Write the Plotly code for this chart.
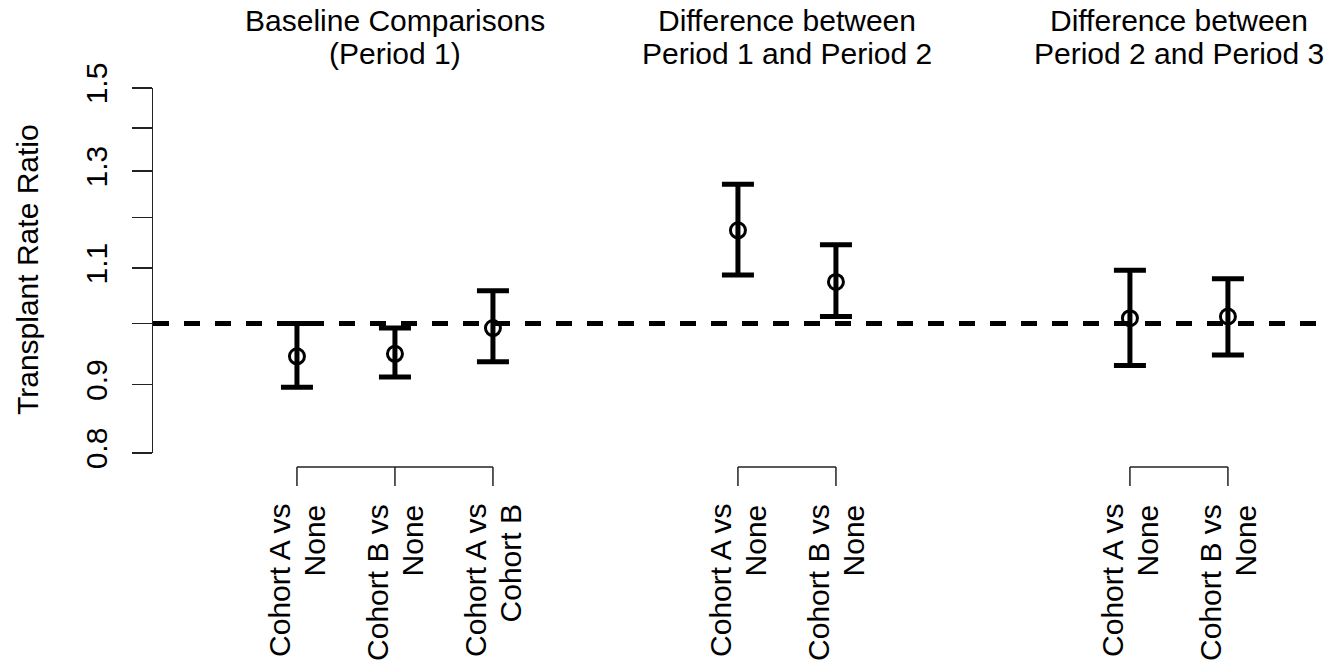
import math
import plotly.graph_objects as go

# ---------------- data ----------------
group_titles = [
    "Baseline Comparisons\n(Period 1)",
    "Difference between\nPeriod 1 and Period 2",
    "Difference between\nPeriod 2 and Period 3",
]
comparison_labels = [
    "Cohort A vs\nNone", "Cohort B vs\nNone", "Cohort A vs\nCohort B",
    "Cohort A vs\nNone", "Cohort B vs\nNone",
    "Cohort A vs\nNone", "Cohort B vs\nNone",
]
comparison_group = [0, 0, 0, 1, 1, 2, 2]
comparison_x = [1, 2, 3, 5.5, 6.5, 9.5, 10.5]
rate_ratio = [0.945, 0.949, 0.992, 1.174, 1.074, 1.009, 1.012]
ci_lower = [0.896, 0.912, 0.936, 1.087, 1.012, 0.930, 0.947]
ci_upper = [1.000, 0.992, 1.058, 1.271, 1.145, 1.096, 1.080]
reference_value = 1.0
y_tick_values = [0.8, 0.9, 1.0, 1.1, 1.2, 1.3, 1.4, 1.5]
y_tick_labels = ["0.8", "0.9", "", "1.1", "", "1.3", "", "1.5"]
y_title = "Transplant Rate Ratio"

# ---------------- layout geometry ----------------
W, H = 1334, 666
# plot area in page pixels: x 153..1322, y 88..453
L, R, T, B = 153, 1334 - 1322, 88, 666 - 453
PW, PH = W - L - R, H - T - B
X_RANGE = [-0.469, 11.46]
FONT = "Liberation Sans, Arial, sans-serif"
FS = 30


def py2paper(py):  # page pixel -> paper
    return (453 - py) / PH


def px2paper(px):
    return (px - 153) / PW


fig = go.Figure()

fig.add_trace(go.Scatter(
    x=comparison_x,
    y=rate_ratio,
    mode="markers",
    marker=dict(symbol="circle-open", size=15, color="black",
                line=dict(width=3, color="black")),
    error_y=dict(
        type="data",
        symmetric=False,
        array=[u - e for u, e in zip(ci_upper, rate_ratio)],
        arrayminus=[e - l for e, l in zip(rate_ratio, ci_lower)],
        thickness=5,
        width=16,
        color="black",
    ),
    showlegend=False,
    hoverinfo="skip",
))

shapes = []
shapes.append(dict(type="line", xref="paper", x0=0, x1=1, yref="y",
                   y0=reference_value, y1=reference_value,
                   line=dict(color="black", width=5, dash="16px,15px"),
                   layer="above"))

annotations = []
for g in range(len(group_titles)):
    xs = [x for x, gg in zip(comparison_x, comparison_group) if gg == g]
    shapes.append(dict(type="line", xref="x", yref="paper",
                       x0=min(xs), x1=max(xs), y0=py2paper(467), y1=py2paper(467),
                       line=dict(color="#222", width=1.5)))
    for x in xs:
        shapes.append(dict(type="line", xref="x", yref="paper",
                           x0=x, x1=x, y0=py2paper(467), y1=py2paper(486),
                           line=dict(color="#222", width=1.5)))
    cx = sum(xs) / len(xs)
    for i, line in enumerate(group_titles[g].split("\n")):
        annotations.append(dict(
            x=cx, xref="x", y=py2paper(21 + 33 * i), yref="paper",
            text=line, showarrow=False, xanchor="center", yanchor="middle",
            font=dict(family=FONT, size=FS, color="black")))

for x, lab in zip(comparison_x, comparison_labels):
    parts = lab.split("\n")
    n = len(parts)
    for i, line in enumerate(parts):
        annotations.append(dict(
            x=x, xref="x", y=py2paper(502), yref="paper",
            text=line, showarrow=False, textangle=-90,
            xanchor="center", yanchor="top",
            xshift=(i - (n - 1) / 2) * 35,
            font=dict(family=FONT, size=FS, color="black")))

annotations.append(dict(
    x=px2paper(27), xref="paper", y=py2paper(270), yref="paper",
    text=y_title, showarrow=False, textangle=-90,
    xanchor="center", yanchor="middle",
    font=dict(family=FONT, size=FS, color="black")))

fig.update_layout(
    width=W, height=H,
    margin=dict(l=L, r=R, t=T, b=B, pad=0),
    paper_bgcolor="white", plot_bgcolor="white",
    font=dict(family=FONT, size=FS, color="black"),
    shapes=shapes,
    annotations=annotations,
    hovermode=False,
    xaxis=dict(range=X_RANGE, visible=False, fixedrange=True),
    yaxis=dict(
        type="log",
        range=[math.log10(0.8), math.log10(1.5)],
        tickmode="array", tickvals=y_tick_values, ticktext=y_tick_labels,
        ticks="outside", ticklen=20, tickwidth=1.5, tickcolor="#222",
        showline=True, linecolor="#222", linewidth=1.5,
        showgrid=False, zeroline=False, tickangle=-90,
        tickfont=dict(family=FONT, size=FS, color="black"),
        ticklabelstandoff=13, fixedrange=True,
    ),
)

fig.write_html(
    "out.html",
    config={"displayModeBar": False, "staticPlot": True},
    post_script="document.body.style.margin='0';document.body.style.overflow='hidden';",
)
